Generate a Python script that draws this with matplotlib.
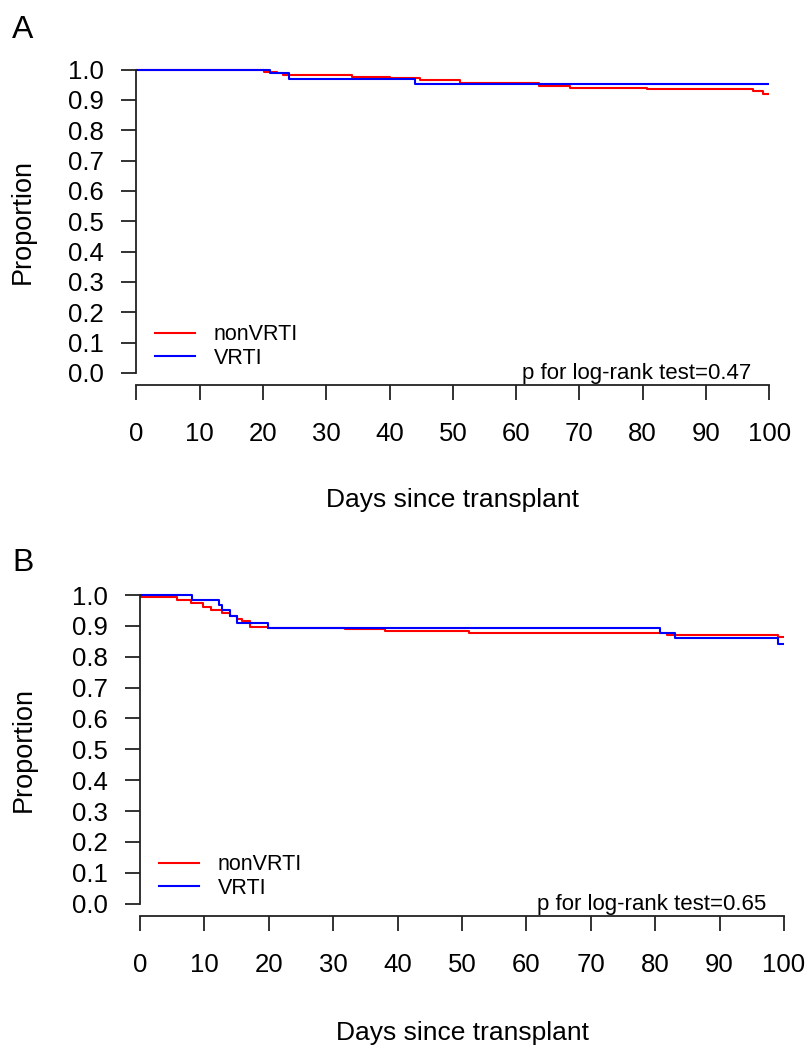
import matplotlib
matplotlib.use("Agg")
import matplotlib.pyplot as plt
from matplotlib.lines import Line2D

plt.rcParams['font.family'] = ['Liberation Sans', 'DejaVu Sans']

# survival curves (days, proportion)
a_red_t = [0, 11.1, 20.1, 22.2, 23.1, 34.1, 40.1, 44.8, 51.1, 63.6, 68.5, 80.7, 97.4, 99.0, 100]
a_red_s = [1.0, 0.997, 0.993, 0.987, 0.981, 0.974, 0.971, 0.964, 0.954, 0.946, 0.939, 0.935, 0.929, 0.918, 0.918]
a_blue_t = [0, 21.1, 24.2, 44.0, 100]
a_blue_s = [1.0, 0.987, 0.970, 0.952, 0.952]

b_red_t = [0, 5.8, 7.9, 9.8, 11.0, 12.8, 14.0, 15.0, 15.9, 17.0, 19.9, 22.2, 31.8, 38.0, 51.1, 81.8, 99.1, 100]
b_red_s = [0.995, 0.984, 0.973, 0.960, 0.950, 0.941, 0.932, 0.923, 0.916, 0.897, 0.894, 0.892, 0.889, 0.883, 0.878, 0.871, 0.865, 0.865]
b_blue_t = [0, 8.0, 12.2, 12.8, 14.0, 15.1, 19.9, 80.8, 83.1, 99.0, 100]
b_blue_s = [1.0, 0.984, 0.968, 0.950, 0.932, 0.910, 0.892, 0.876, 0.861, 0.842, 0.842]

groups = ['nonVRTI', 'VRTI']
pvals = ['0.47', '0.65']
panels = ['A', 'B']
xticks = list(range(0, 101, 10))
yticks = [i / 10 for i in range(11)]

fig = plt.figure(figsize=(8.08, 10.47), dpi=100)
ax_a = fig.add_axes([0.1687, 0.6323, 0.7834, 0.3129])
ax_b = fig.add_axes([0.1733, 0.1251, 0.7970, 0.3184])

curves = [(a_red_t, a_red_s, a_blue_t, a_blue_s), (b_red_t, b_red_s, b_blue_t, b_blue_s)]

for ax, (rt, rs, bt, bs), p in zip([ax_a, ax_b], curves, pvals):
    ax.step(rt, rs, where='post', color='#ff0000', lw=1.5)
    ax.step(bt, bs, where='post', color='#0000ff', lw=1.5)
    ax.set_xlim(0, 100)
    ax.set_ylim(-0.04, 1.04)
    for s in ['top', 'right']:
        ax.spines[s].set_visible(False)
    ax.spines['left'].set_bounds(0, 1)
    ax.spines['bottom'].set_bounds(0, 100)
    for s in ['left', 'bottom']:
        ax.spines[s].set_linewidth(1.3)
        ax.spines[s].set_color('#222222')
    ax.set_xticks(xticks)
    ax.set_yticks(yticks)
    ax.set_yticklabels(['%.1f' % v for v in yticks])
    ax.tick_params(axis='both', length=10.8, width=1.3, color='#222222', labelsize=18.5)
    ax.tick_params(axis='x', pad=16)
    ax.tick_params(axis='y', pad=12.5)
    ax.set_xlabel('Days since transplant', fontsize=19)
    ax.xaxis.set_label_coords(0.5, -0.352)
    ax.xaxis.label.set_verticalalignment('center')
    ax.set_ylabel('Proportion', fontsize=19.5)
    ax.yaxis.set_label_coords(-0.18, 0.5)
    ax.yaxis.label.set_verticalalignment('center')
    ax.text(97.2, -0.02, 'p for log-rank test=' + p, ha='right', va='baseline', fontsize=16)
    handles = [Line2D([], [], color='#ff0000', lw=1.5), Line2D([], [], color='#0000ff', lw=1.5)]
    ax.legend(handles, groups, loc='upper left', bbox_to_anchor=(0.03, 0.185), frameon=False,
              fontsize=15.5, handlelength=1.86, handletextpad=0.84, labelspacing=0.1,
              borderpad=0, borderaxespad=0)

fig.text(23 / 808, 1 - 30 / 1047, panels[0], fontsize=23, ha='center', va='center')
fig.text(23 / 808, 1 - 563 / 1047, panels[1], fontsize=23, ha='center', va='center')

fig.savefig('out.png', dpi=100)
